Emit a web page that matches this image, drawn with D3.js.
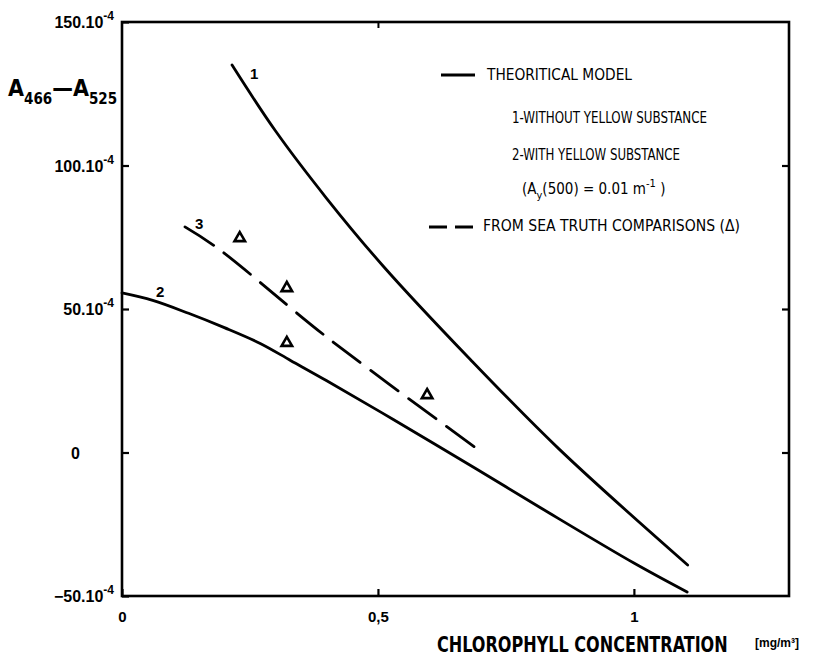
<!DOCTYPE html>
<html>
<head>
<meta charset="utf-8">
<script src="https://cdn.jsdelivr.net/npm/d3@7"></script>
<style>
  body { margin: 0; background: #fff; }
  svg { display: block; }
</style>
</head>
<body>
<div id="chart"></div>
<script>
// values
var xTicks = [0, 0.5, 1];
var yTicks = [-50, 0, 50, 100, 150];

// curve 1 : without yellow substance
var curve1X = [0.215, 0.30, 0.40, 0.51, 0.68, 0.855, 1.105];
var curve1Y = [135.0, 112.0, 88.5, 65.0, 32.5, 1.0, -39.2];

// curve 2 : with yellow substance
var curve2X = [0.0, 0.06, 0.13, 0.20, 0.27, 0.33, 0.40, 0.53, 0.69, 0.82, 1.0, 1.104];
var curve2Y = [55.6, 53.0, 48.5, 43.5, 38.0, 32.0, 25.0, 11.5, -5.5, -19.5, -38.5, -48.6];

// curve 3 : from sea truth comparisons (dashed)
var curve3X = [0.123, 0.186, 0.40, 0.689];
var curve3Y = [78.6, 71.3, 40.2, 1.9];

// sea truth points (triangles)
var seaX = [0.230, 0.322, 0.322, 0.596];
var seaY = [74.7, 57.3, 38.2, 20.0];

var svgWidth = 826;
var svgHeight = 664;
var chartMargin = { top: 22, right: 37, bottom: 68, left: 122 };
var chartWidth = svgWidth - chartMargin.left - chartMargin.right;
var chartHeight = svgHeight - chartMargin.top - chartMargin.bottom;

var svg = d3.select("#chart")
    .append("svg")
    .attr("width", svgWidth)
    .attr("height", svgHeight);

var chartGroup = svg.append("g")
    .attr("transform", `translate(${chartMargin.left},${chartMargin.top})`);

var xScale = d3.scaleLinear().domain([0, 1.303]).range([0, chartWidth]);
var yScale = d3.scaleLinear().domain([-50, 150]).range([chartHeight, 0]);

var boldFont = "'Liberation Sans', Arial, sans-serif";
var condFont = "'DejaVu Sans Condensed', 'DejaVu Sans', sans-serif";
var narrowFont = "'Liberation Sans Narrow', 'DejaVu Sans Condensed', sans-serif";

// frame
chartGroup.append("rect")
    .attr("x", 0).attr("y", 0)
    .attr("width", chartWidth).attr("height", chartHeight)
    .attr("fill", "none").attr("stroke", "#000").attr("stroke-width", 2.6);

// bottom axis, ticks pointing inside
var xAxis = d3.axisBottom(xScale)
    .tickValues(xTicks)
    .tickSizeInner(-7)
    .tickSizeOuter(0)
    .tickPadding(15)
    .tickFormat(d => String(d).replace(".", ","));

var gx = chartGroup.append("g")
    .attr("transform", `translate(0,${chartHeight})`)
    .call(xAxis);
gx.select(".domain").remove();
gx.selectAll("line").attr("stroke", "#000").attr("stroke-width", 2.2);
gx.selectAll("text")
    .attr("font-family", boldFont).attr("font-weight", "bold")
    .attr("font-size", 15).attr("fill", "#000");

// top tick
var gxt = chartGroup.append("g").call(d3.axisTop(xScale).tickValues([0.5]).tickSizeInner(-6).tickSizeOuter(0).tickFormat(""));
gxt.select(".domain").remove();
gxt.selectAll("line").attr("stroke", "#000").attr("stroke-width", 2);

// left axis ticks
var yAxis = d3.axisLeft(yScale).tickValues(yTicks).tickSizeInner(-7).tickSizeOuter(0).tickFormat("");
var gy = chartGroup.append("g").call(yAxis);
gy.select(".domain").remove();
gy.selectAll("line").attr("stroke", "#000").attr("stroke-width", 2.2);

// right axis ticks
var gyr = chartGroup.append("g")
    .attr("transform", `translate(${chartWidth},0)`)
    .call(d3.axisRight(yScale).tickValues([0, 50, 100]).tickSizeInner(-7).tickSizeOuter(0).tickFormat(""));
gyr.select(".domain").remove();
gyr.selectAll("line").attr("stroke", "#000").attr("stroke-width", 2.2);

// y tick labels with superscript exponent
yTicks.forEach(function(v) {
    var t = chartGroup.append("text")
        .attr("x", -8)
        .attr("y", yScale(v) + 6)
        .attr("text-anchor", "end")
        .attr("font-family", boldFont).attr("font-weight", "bold")
        .attr("font-size", 16);
    if (v === 0) {
        t.attr("x", -42).text("0");
    } else {
        t.append("tspan").text((v < 0 ? "\u2212" + Math.abs(v) : v) + ".10");
        t.append("tspan").attr("dy", -8).attr("font-size", 12).text("-4");
    }
});

// y axis title  A466 - A525
var ytitle = svg.append("text")
    .attr("x", 8).attr("y", 96)
    .attr("font-family", condFont).attr("font-weight", "bold")
    .attr("font-size", 23);
ytitle.append("tspan").text("A");
ytitle.append("tspan").attr("dy", 8).attr("font-size", 15).text("466");
ytitle.append("tspan").attr("dy", -8).text("\u2014A");
ytitle.append("tspan").attr("dy", 8).attr("font-size", 15).text("525");

// x axis title (squeezed horizontally)
svg.append("g")
    .attr("transform", "translate(437,652) scale(0.85,1)")
    .append("text")
    .attr("x", 0).attr("y", 0)
    .attr("textLength", 342).attr("lengthAdjust", "spacingAndGlyphs")
    .attr("font-family", condFont).attr("font-weight", "bold")
    .attr("font-size", 22)
    .text("CHLOROPHYLL  CONCENTRATION");
svg.append("text")
    .attr("x", 755).attr("y", 647)
    .attr("font-family", boldFont).attr("font-weight", "bold")
    .attr("font-size", 12)
    .text("[mg/m\u00B3]");

// curves
var line = d3.line()
    .x(d => xScale(d[0]))
    .y(d => yScale(d[1]))
    .curve(d3.curveCatmullRom);

var curves = [
    { xs: curve1X, ys: curve1Y, dash: null },
    { xs: curve2X, ys: curve2Y, dash: null },
    { xs: curve3X, ys: curve3Y, dash: "34,13" }
];
curves.forEach(function(c) {
    chartGroup.append("path")
        .datum(c.xs.map((x, i) => [x, c.ys[i]]))
        .attr("d", line)
        .attr("fill", "none")
        .attr("stroke", "#000")
        .attr("stroke-width", 2.8)
        .attr("stroke-linecap", "round")
        .attr("stroke-dasharray", c.dash);
});

// curve numbers
var numLabels = [
    { txt: "1", x: curve1X[0], y: curve1Y[0], dx: 18, dy: 14 },
    { txt: "2", x: curve2X[0], y: curve2Y[0], dx: 34, dy: 4 },
    { txt: "3", x: curve3X[0], y: curve3Y[0], dx: 10, dy: 2 }
];
numLabels.forEach(function(n) {
    chartGroup.append("text")
        .attr("x", xScale(n.x) + n.dx)
        .attr("y", yScale(n.y) + n.dy)
        .attr("font-family", boldFont).attr("font-weight", "bold")
        .attr("font-size", 15)
        .text(n.txt);
});

// sea truth triangles
chartGroup.selectAll(".tri")
    .data(seaX.map((x, i) => [x, seaY[i]]))
    .enter().append("path")
    .attr("class", "tri")
    .attr("d", d3.symbol(d3.symbolTriangle).size(48))
    .attr("transform", d => `translate(${xScale(d[0])},${yScale(d[1])})`)
    .attr("fill", "#fff")
    .attr("stroke", "#000")
    .attr("stroke-width", 2.6);

// legend
var legend = svg.append("g");
legend.append("line")
    .attr("x1", 441).attr("x2", 475).attr("y1", 75).attr("y2", 75)
    .attr("stroke", "#000").attr("stroke-width", 2.8);
legend.append("line")
    .attr("x1", 429).attr("x2", 475).attr("y1", 227).attr("y2", 227)
    .attr("stroke", "#000").attr("stroke-width", 2.8)
    .attr("stroke-dasharray", "18,8");

var legendRows = [
    { x: 487, y: 80, w: 145, txt: "THEORITICAL MODEL" },
    { x: 512, y: 123, w: 195, txt: "1-WITHOUT YELLOW SUBSTANCE" },
    { x: 512, y: 160, w: 168, txt: "2-WITH YELLOW SUBSTANCE" },
    { x: 483, y: 231, w: 257, txt: "FROM SEA TRUTH COMPARISONS (\u0394)" }
];
legendRows.forEach(function(r) {
    legend.append("text")
        .attr("x", r.x).attr("y", r.y)
        .attr("textLength", r.w).attr("lengthAdjust", "spacingAndGlyphs")
        .attr("font-family", narrowFont)
        .attr("font-size", 15)
        .text(r.txt);
});
var formula = legend.append("text")
    .attr("x", 522).attr("y", 194)
    .attr("font-family", narrowFont)
    .attr("font-size", 15);
formula.append("tspan").text("(A");
formula.append("tspan").attr("dy", 5).attr("font-size", 11).text("y");
formula.append("tspan").attr("dy", -5).text("(500) = 0.01 m");
formula.append("tspan").attr("dy", -7).attr("font-size", 11).text("-1");
formula.append("tspan").attr("dy", 7).text(" )");
</script>
</body>
</html>
